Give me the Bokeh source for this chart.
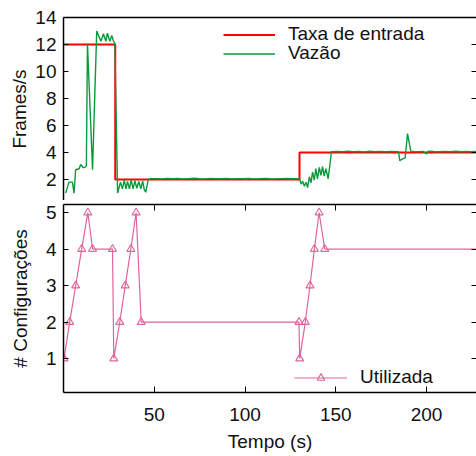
from bokeh.plotting import figure
from bokeh.models import Range1d, LinearAxis, FixedTicker, Legend, LegendItem
from bokeh.layouts import column
from bokeh.embed import file_html
from bokeh.resources import INLINE

# ---------------- data ----------------
# Taxa de entrada (step input rate)
taxa_t = [0, 28.5, 130, 240]
taxa_v = [12, 2, 4, 4]

# Vazão (throughput)
vazao_t = [1.2, 3.0, 4.9, 5.8, 6.7, 8.6, 9.5, 10.8, 11.9, 12.6, 13.2, 16.0,
           18.3, 20.6, 22.0, 23.3, 24.2, 25.5, 26.6, 27.4, 28.3,
           29.8, 31.4, 32.4, 33.5, 34.4, 35.3, 36.3, 37.3, 38.3, 39.3, 40.4,
           41.5, 42.6, 43.6, 44.5, 45.3, 46.7, 48.0,
           51, 54, 57, 60, 63, 66, 69, 72, 75, 78, 81, 84, 87, 90, 93, 96, 99,
           102, 105, 108, 111, 114, 117, 120, 123, 126, 129,
           130.1, 130.9, 131.8, 132.7, 133.6, 134.5, 135.4, 136.3, 137.2, 138.1,
           139.0, 139.9, 140.9, 141.8, 142.7, 143.6, 144.5, 145.8, 147.6,
           150.6, 153.6, 156.6, 159.6, 162.6, 165.6, 168.6, 171.6, 174.6, 177.6,
           180.6, 183.6,
           184.6, 185.2, 186.6, 188.2, 189.5, 191.3, 193, 195.5, 198, 200, 201,
           204, 207, 210, 213, 216, 219, 222, 225, 228, 231]
vazao_v = [0.99, 1.8, 1.8, 0.99, 2.72, 2.79, 3.11, 2.87, 2.91, 3.04, 12.05, 2.72,
           12.99, 12.24, 12.79, 12.24, 12.84, 12.24, 12.67, 12.3, 12.05,
           0.99, 1.8, 1.3, 1.95, 1.3, 1.85, 1.3, 1.95, 1.3, 1.9, 1.35,
           1.85, 1.3, 1.9, 1.25, 1.05, 2.0, 2.06,
           2.06, 2.04, 2.08, 2.05, 2.07, 2.03, 2.06, 2.09, 2.05, 2.04, 2.07, 2.06,
           2.05, 2.08, 2.04, 2.06, 2.05, 2.07, 2.04, 2.06, 2.08, 2.05, 2.04, 2.06,
           2.07, 2.05, 2.06,
           2.05, 1.65, 1.85, 1.5, 1.8, 1.4, 2.2, 1.75, 2.55, 1.95,
           2.8, 2.05, 2.9, 2.3, 2.95, 2.25, 2.8, 2.05, 4.05,
           4.08, 4.05, 4.1, 4.06, 4.08, 4.04, 4.09, 4.06, 4.07, 4.05, 4.08, 4.06,
           4.05, 3.4, 3.5, 3.6, 5.4, 4.1, 4.08, 4.06, 4.08, 3.9, 4.1,
           4.07, 4.05, 4.08, 4.06, 4.09, 4.05, 4.07, 4.06, 4.08, 4.05]

# Configurações utilizadas
conf_t = [0.3, 3.4, 6.7, 10.0, 13.4, 16.0, 27.0, 27.7, 31.0, 34.0, 37.1, 40.0,
          42.8, 129.7, 130.1, 133.2, 135.8, 138.2, 140.8, 143.9]
conf_v = [1, 2, 3, 4, 5, 4, 4, 1, 2, 3, 4, 5, 2, 2, 1, 2, 3, 4, 5, 4]
conf_end_t = [143.9, 240]
conf_end_v = [4, 4]

x_ticks = [50, 100, 150, 200]
y1_ticks = [2, 4, 6, 8, 10, 12, 14]
y2_ticks = [1, 2, 3, 4, 5]

# ---------------- style ----------------
FONT = "Liberation Sans"
FS = "19px"
RED = "#ff0000"
GREEN = "#0a9a3a"
PINK = "#e0649a"
W = 476
LEFT = 63

xr = Range1d(0, 227.5)


def style_axis(ax, labels=True, tick_len=5):
    ax.major_tick_in = tick_len
    ax.major_tick_out = 0
    ax.minor_tick_in = 0
    ax.minor_tick_out = 0
    ax.major_tick_line_color = "black"
    ax.major_tick_line_width = 1
    ax.axis_line_width = 1.5
    ax.major_label_text_font = FONT
    ax.major_label_text_font_size = FS
    ax.major_label_text_color = "#111111"
    ax.axis_label_text_font = FONT
    ax.axis_label_text_font_size = FS
    ax.axis_label_text_font_style = "normal"
    ax.axis_label_text_color = "#111111"
    if not labels:
        ax.major_label_text_font_size = "0px"
        ax.major_label_text_alpha = 0
        ax.major_label_standoff = 0


def make_legend(items, loc, glyph_w):
    lg = Legend(items=items, location=loc)
    lg.glyph_width = glyph_w
    lg.glyph_height = 19
    lg.label_height = 19
    lg.label_standoff = 13
    lg.padding = 0
    lg.margin = 0
    lg.spacing = 0
    lg.background_fill_alpha = 0
    lg.border_line_color = None
    lg.label_text_font = FONT
    lg.label_text_font_size = FS
    lg.label_text_color = "#111111"
    return lg


# ---------------- top panel ----------------
p1 = figure(width=W, height=200, output_backend="svg", toolbar_location=None,
            x_range=xr, y_range=Range1d(0.44, 14),
            x_axis_location=None, y_axis_location=None,
            min_border_left=LEFT, min_border_right=0, min_border_top=17,
            min_border_bottom=0)
p1.outline_line_color = None
p1.grid.visible = False

ax = LinearAxis(ticker=FixedTicker(ticks=y1_ticks), axis_label="Frames/s")
style_axis(ax)
ax.major_label_standoff = 7
ax.axis_label_standoff = 2
p1.add_layout(ax, "left")

ax = LinearAxis(ticker=FixedTicker(ticks=y1_ticks))
style_axis(ax, labels=False)
ax.axis_line_color = None
p1.add_layout(ax, "right")

ax = LinearAxis(ticker=FixedTicker(ticks=[]))
style_axis(ax, labels=False)
p1.add_layout(ax, "above")

r_red = p1.step(taxa_t, taxa_v, mode="after", line_color=RED, line_width=2)
r_green = p1.line(vazao_t, vazao_v, line_color=GREEN, line_width=1.4)

p1.add_layout(make_legend([LegendItem(label="Taxa de entrada", renderers=[r_red])],
                          (160, 155), 52))
p1.add_layout(make_legend([LegendItem(label="Vazão", renderers=[r_green])],
                          (160, 136), 52))

# ---------------- bottom panel ----------------
p2 = figure(width=W, height=256, output_backend="svg", toolbar_location=None,
            x_range=xr, y_range=Range1d(0.07, 5.22),
            x_axis_location=None, y_axis_location=None,
            min_border_left=LEFT, min_border_right=0, min_border_top=4,
            min_border_bottom=64)
p2.outline_line_color = None
p2.grid.visible = False

ax = LinearAxis(ticker=FixedTicker(ticks=y2_ticks), axis_label="# Configurações")
style_axis(ax)
ax.major_label_standoff = 7
ax.axis_label_standoff = 12
p2.add_layout(ax, "left")

ax = LinearAxis(ticker=FixedTicker(ticks=y2_ticks))
style_axis(ax, labels=False)
ax.axis_line_color = None
p2.add_layout(ax, "right")

ax = LinearAxis(ticker=FixedTicker(ticks=x_ticks))
style_axis(ax, labels=False, tick_len=6)
p2.add_layout(ax, "above")

ax = LinearAxis(ticker=FixedTicker(ticks=x_ticks), axis_label="Tempo (s)")
style_axis(ax, tick_len=6)
ax.major_label_standoff = 15
ax.axis_label_standoff = 7
p2.add_layout(ax, "below")

r_conf = p2.line(conf_t, conf_v, line_color=PINK, line_width=1.2)
r_conf_end = p2.line(conf_end_t, conf_end_v, line_color=PINK, line_width=1.2)
r_tri = p2.scatter(conf_t, conf_v, marker="triangle", size=8, fill_color=None,
                   line_color=PINK, line_width=1.1)

p2.add_layout(make_legend([LegendItem(label="Utilizada", renderers=[r_conf, r_tri])],
                          (231, 4), 53))

layout = column(p1, p2, spacing=0)
open("out.html", "w").write(file_html(layout, INLINE))
